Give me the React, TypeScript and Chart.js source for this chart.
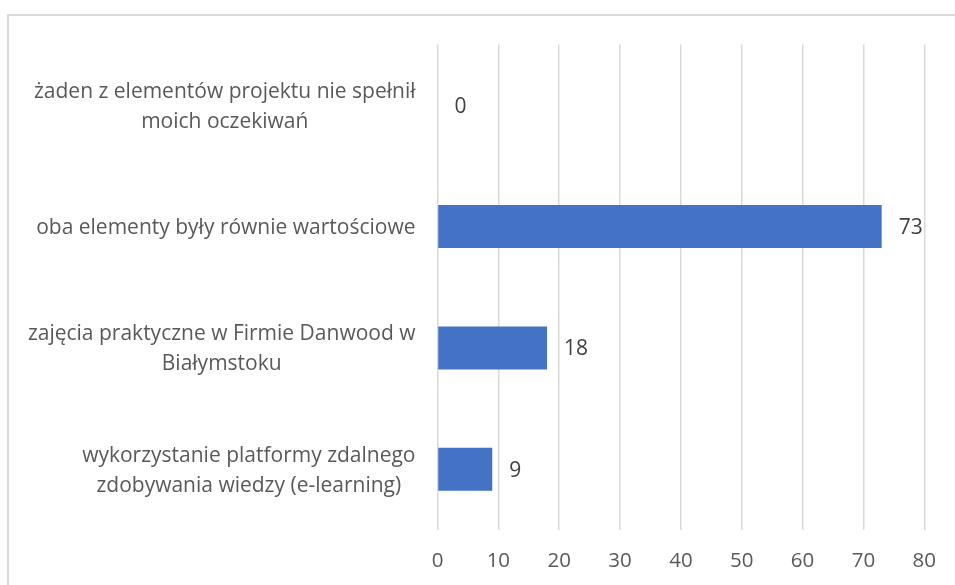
import React, { useEffect, useRef } from "react";
import { Chart, registerables } from "chart.js";

Chart.register(...registerables);

const categories: string[][] = [
  ["żaden z elementów projektu nie spełnił", "moich oczekiwań"],
  ["oba elementy były równie wartościowe"],
  ["zajęcia praktyczne w Firmie Danwood w", "Białymstoku"],
  ["wykorzystanie platformy zdalnego", "zdobywania wiedzy (e-learning)"],
];
const values: number[] = [0, 73, 18, 9];
const xMin = 0;
const xMax = 80;
const xStep = 10;

const FONT = "'Open Sans', Lato, sans-serif";

const labelPlugin = {
  id: "customLabels",
  afterDatasetsDraw(chart: any) {
    const ctx = chart.ctx;
    const yScale = chart.scales.y;
    const xScale = chart.scales.x;
    const area = chart.chartArea;
    ctx.save();
    // category labels: block right aligned, lines centered within block
    ctx.font = `21px ${FONT}`;
    ctx.fillStyle = "#595959";
    ctx.textAlign = "center";
    ctx.textBaseline = "middle";
    const right = area.left - 22;
    const lh = 30;
    categories.forEach((lines, i) => {
      const cy = yScale.getPixelForValue(i) + 1.5;
      const w = Math.max(...lines.map((l) => ctx.measureText(l).width));
      const cx = right - w / 2;
      lines.forEach((l, j) => {
        const y = cy + (j - (lines.length - 1) / 2) * lh;
        ctx.fillText(l, cx, y);
      });
    });
    // value labels
    ctx.font = `21px ${FONT}`;
    ctx.fillStyle = "#404040";
    ctx.textAlign = "left";
    values.forEach((v, i) => {
      const cy = yScale.getPixelForValue(i) + 1.5;
      const x = xScale.getPixelForValue(v) + 17;
      ctx.fillText(String(v), x, cy);
    });
    ctx.restore();
  },
};

export default function App() {
  const ref = useRef<HTMLCanvasElement | null>(null);
  useEffect(() => {
    if (!ref.current) return;
    const chart = new Chart(ref.current, {
      type: "bar",
      data: {
        labels: categories.map((c) => c.join(" ")),
        datasets: [
          {
            data: values,
            backgroundColor: "#4472C4",
            borderWidth: 0,
            categoryPercentage: 1,
            barPercentage: 0.355,
          },
        ],
      },
      options: {
        indexAxis: "y",
        animation: false,
        responsive: false,
        maintainAspectRatio: false,
        layout: { padding: { top: 44.5, right: 22, left: 0, bottom: 0 } },
        plugins: {
          legend: { display: false },
          tooltip: { enabled: false },
          title: { display: false },
        },
        scales: {
          x: {
            min: xMin,
            max: xMax,
            border: { display: false },
            grid: { color: "#d9d9d9", lineWidth: 1.5, drawTicks: false },
            ticks: {
              stepSize: xStep,
              color: "#595959",
              font: { family: FONT, size: 20.5 },
              padding: 19,
            },
            afterFit: (s: any) => {
              s.height = 55;
            },
          },
          y: {
            border: { display: false },
            grid: { display: false },
            ticks: { display: false },
            afterFit: (s: any) => {
              s.width = 437.5;
            },
          },
        },
      },
      plugins: [labelPlugin],
    });
    return () => chart.destroy();
  }, []);

  return (
    <div
      style={{
        position: "fixed",
        left: 0,
        top: 0,
        width: 955,
        height: 585,
        overflow: "hidden",
        background: "#fff",
      }}
    >
      <div
        style={{
          position: "absolute",
          left: 7,
          top: 14,
          width: 1000,
          height: 700,
          border: "2px solid #d9d9d9",
          boxSizing: "border-box",
        }}
      />
      <canvas
        ref={ref}
        width={955}
        height={585}
        style={{ position: "absolute", left: 0, top: 0, width: 955, height: 585 }}
      />
    </div>
  );
}
